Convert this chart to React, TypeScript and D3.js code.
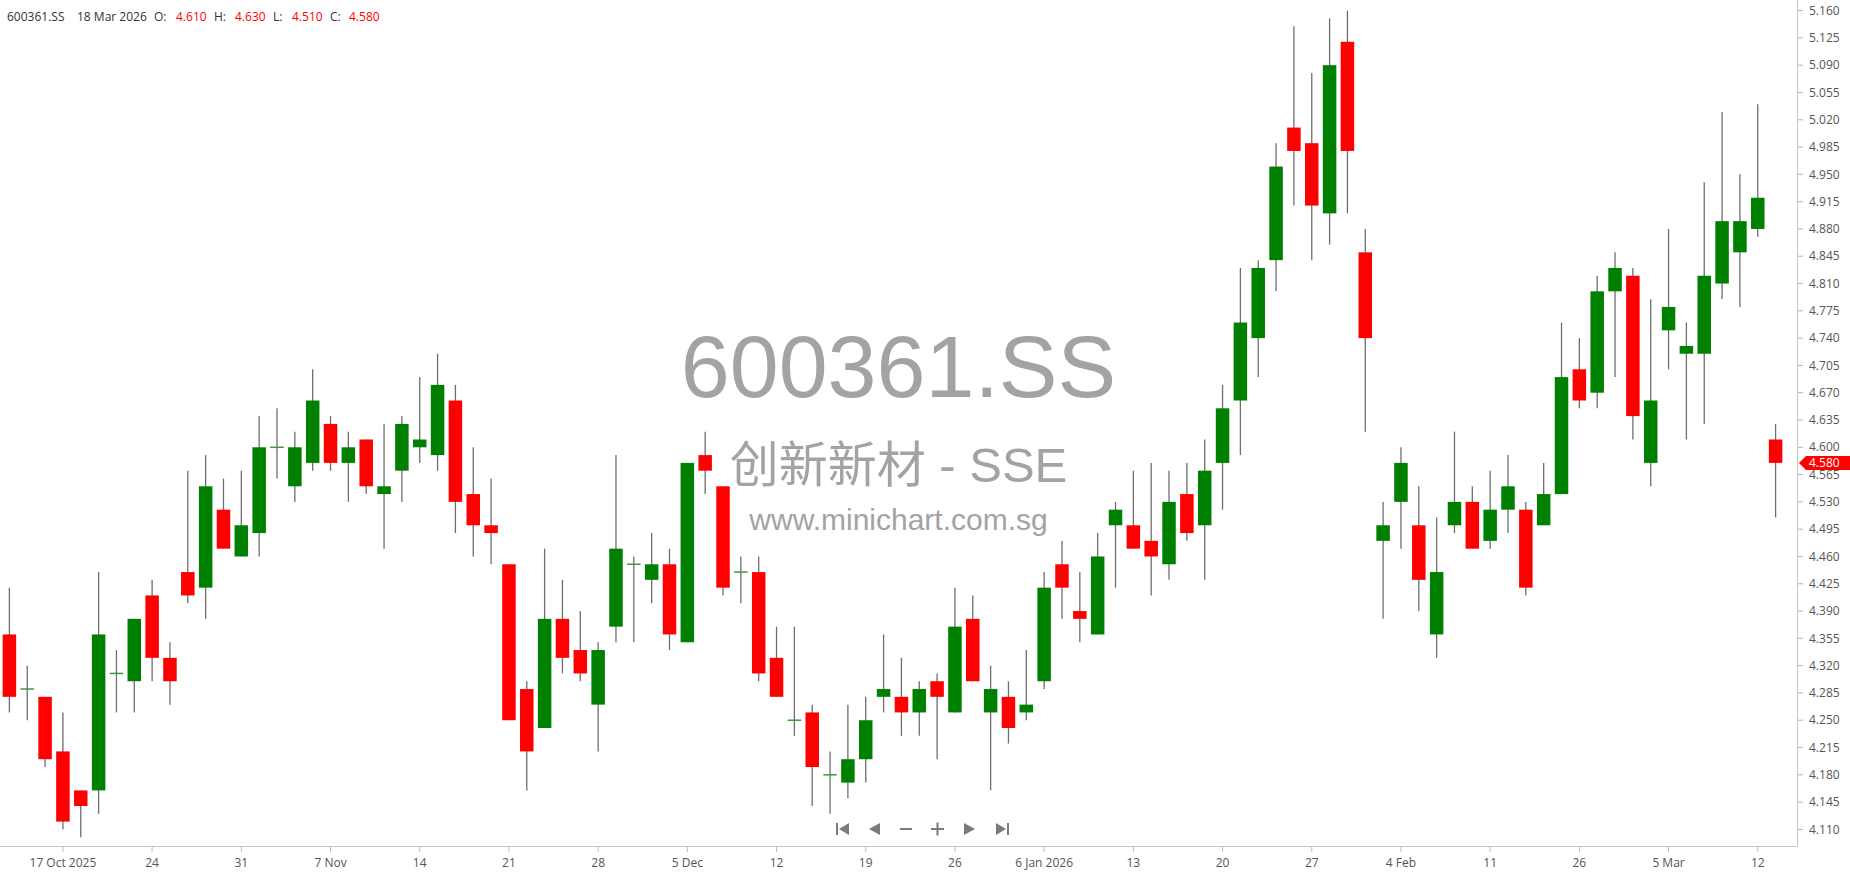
import React from "react";
import * as d3 from "d3";

// trading days shown on the chart
const dates = [
  "2025-10-14", "2025-10-15", "2025-10-16", "2025-10-17", "2025-10-20", "2025-10-21", "2025-10-22", "2025-10-23", "2025-10-24",
  "2025-10-27", "2025-10-28", "2025-10-29", "2025-10-30", "2025-10-31", "2025-11-03", "2025-11-04", "2025-11-05", "2025-11-06",
  "2025-11-07", "2025-11-10", "2025-11-11", "2025-11-12", "2025-11-13", "2025-11-14", "2025-11-17", "2025-11-18", "2025-11-19",
  "2025-11-20", "2025-11-21", "2025-11-24", "2025-11-25", "2025-11-26", "2025-11-27", "2025-11-28", "2025-12-01", "2025-12-02",
  "2025-12-03", "2025-12-04", "2025-12-05", "2025-12-08", "2025-12-09", "2025-12-10", "2025-12-11", "2025-12-12", "2025-12-15",
  "2025-12-16", "2025-12-17", "2025-12-18", "2025-12-19", "2025-12-22", "2025-12-23", "2025-12-24", "2025-12-25", "2025-12-26",
  "2025-12-29", "2025-12-30", "2025-12-31", "2026-01-05", "2026-01-06", "2026-01-07", "2026-01-08", "2026-01-09", "2026-01-12",
  "2026-01-13", "2026-01-14", "2026-01-15", "2026-01-16", "2026-01-19", "2026-01-20", "2026-01-21", "2026-01-22", "2026-01-23",
  "2026-01-26", "2026-01-27", "2026-01-28", "2026-01-29", "2026-01-30", "2026-02-03", "2026-02-04", "2026-02-05", "2026-02-06",
  "2026-02-09", "2026-02-10", "2026-02-11", "2026-02-12", "2026-02-13", "2026-02-24", "2026-02-25", "2026-02-26", "2026-02-27",
  "2026-03-02", "2026-03-03", "2026-03-04", "2026-03-05", "2026-03-06", "2026-03-09", "2026-03-10", "2026-03-11", "2026-03-12",
  "2026-03-18",
];

const open = [
  4.36, 4.29, 4.28, 4.21, 4.16, 4.16, 4.31, 4.30, 4.41, 4.33,
  4.44, 4.42, 4.52, 4.46, 4.49, 4.60, 4.55, 4.58, 4.63, 4.58,
  4.61, 4.54, 4.57, 4.60, 4.59, 4.66, 4.54, 4.50, 4.45, 4.29,
  4.24, 4.38, 4.34, 4.27, 4.37, 4.45, 4.43, 4.45, 4.35, 4.59,
  4.55, 4.44, 4.44, 4.33, 4.25, 4.26, 4.18, 4.17, 4.20, 4.28,
  4.28, 4.26, 4.30, 4.26, 4.38, 4.26, 4.28, 4.26, 4.30, 4.45,
  4.39, 4.36, 4.50, 4.50, 4.48, 4.45, 4.54, 4.50, 4.58, 4.66,
  4.74, 4.84, 5.01, 4.99, 4.90, 5.12, 4.85, 4.48, 4.53, 4.50,
  4.36, 4.50, 4.53, 4.48, 4.52, 4.52, 4.50, 4.54, 4.70, 4.67,
  4.80, 4.82, 4.58, 4.75, 4.72, 4.72, 4.81, 4.85, 4.88, 4.61,
];
const high = [
  4.42, 4.32, 4.28, 4.26, 4.16, 4.44, 4.34, 4.38, 4.43, 4.35,
  4.57, 4.59, 4.56, 4.57, 4.64, 4.65, 4.62, 4.70, 4.64, 4.62,
  4.61, 4.63, 4.64, 4.69, 4.72, 4.68, 4.60, 4.56, 4.45, 4.30,
  4.47, 4.43, 4.39, 4.35, 4.59, 4.46, 4.49, 4.47, 4.58, 4.62,
  4.55, 4.46, 4.46, 4.37, 4.37, 4.27, 4.21, 4.27, 4.28, 4.36,
  4.33, 4.30, 4.31, 4.42, 4.41, 4.32, 4.30, 4.34, 4.44, 4.48,
  4.44, 4.49, 4.53, 4.57, 4.58, 4.57, 4.58, 4.61, 4.68, 4.83,
  4.84, 4.99, 5.14, 5.08, 5.15, 5.16, 4.88, 4.53, 4.60, 4.55,
  4.51, 4.62, 4.55, 4.57, 4.59, 4.53, 4.58, 4.76, 4.74, 4.82,
  4.85, 4.83, 4.79, 4.88, 4.76, 4.94, 5.03, 4.95, 5.04, 4.63,
];
const low = [
  4.26, 4.25, 4.19, 4.11, 4.10, 4.13, 4.26, 4.26, 4.30, 4.27,
  4.40, 4.38, 4.47, 4.46, 4.46, 4.56, 4.53, 4.57, 4.57, 4.53,
  4.54, 4.47, 4.53, 4.58, 4.57, 4.49, 4.46, 4.45, 4.25, 4.16,
  4.24, 4.31, 4.30, 4.21, 4.35, 4.35, 4.40, 4.34, 4.35, 4.54,
  4.41, 4.40, 4.30, 4.28, 4.23, 4.14, 4.13, 4.15, 4.17, 4.26,
  4.23, 4.23, 4.20, 4.26, 4.30, 4.16, 4.22, 4.25, 4.29, 4.38,
  4.35, 4.36, 4.42, 4.47, 4.41, 4.43, 4.48, 4.43, 4.52, 4.59,
  4.69, 4.80, 4.91, 4.84, 4.86, 4.90, 4.62, 4.38, 4.47, 4.39,
  4.33, 4.49, 4.47, 4.47, 4.49, 4.41, 4.50, 4.54, 4.65, 4.65,
  4.69, 4.61, 4.55, 4.70, 4.61, 4.63, 4.79, 4.78, 4.87, 4.51,
];
const close = [
  4.28, 4.29, 4.20, 4.12, 4.14, 4.36, 4.31, 4.38, 4.33, 4.30,
  4.41, 4.55, 4.47, 4.50, 4.60, 4.60, 4.60, 4.66, 4.58, 4.60,
  4.55, 4.55, 4.63, 4.61, 4.68, 4.53, 4.50, 4.49, 4.25, 4.21,
  4.38, 4.33, 4.31, 4.34, 4.47, 4.45, 4.45, 4.36, 4.58, 4.57,
  4.42, 4.44, 4.31, 4.28, 4.25, 4.19, 4.18, 4.20, 4.25, 4.29,
  4.26, 4.29, 4.28, 4.37, 4.30, 4.29, 4.24, 4.27, 4.42, 4.42,
  4.38, 4.46, 4.52, 4.47, 4.46, 4.53, 4.49, 4.57, 4.65, 4.76,
  4.83, 4.96, 4.98, 4.91, 5.09, 4.98, 4.74, 4.50, 4.58, 4.43,
  4.44, 4.53, 4.47, 4.52, 4.55, 4.42, 4.54, 4.69, 4.66, 4.80,
  4.83, 4.64, 4.66, 4.78, 4.73, 4.82, 4.89, 4.89, 4.92, 4.58,
];

const tickDates = [
  "2025-10-17", "2025-10-24", "2025-10-31", "2025-11-07", "2025-11-14", "2025-11-21", "2025-11-28",
  "2025-12-05", "2025-12-12", "2025-12-19", "2025-12-26", "2026-01-06", "2026-01-13", "2026-01-20",
  "2026-01-27", "2026-02-04", "2026-02-11", "2026-02-26", "2026-03-05", "2026-03-12",
];
const tickLabels = [
  "17 Oct 2025", "24", "31", "7 Nov", "14", "21", "28", "5 Dec", "12", "19", "26",
  "6 Jan 2026", "13", "20", "27", "4 Feb", "11", "26", "5 Mar", "12",
];

const yTicks = [
  4.110, 4.145, 4.180, 4.215, 4.250, 4.285, 4.320, 4.355, 4.390, 4.425, 4.460,
  4.495, 4.530, 4.565, 4.600, 4.635, 4.670, 4.705, 4.740, 4.775, 4.810, 4.845,
  4.880, 4.915, 4.950, 4.985, 5.020, 5.055, 5.090, 5.125, 5.160,
];

const symbol = "600361.SS";
const nameLine = "创新新材 - SSE";
const siteLine = "www.minichart.com.sg";

const W = 1850;
const H = 874;
const plotRight = 1797;
const axisY = 846;
const font = "'Open Sans', 'Noto Sans', sans-serif";

export default function App() {
  const x = d3.scalePoint<string>().domain(dates).range([9.4, 1775.6]);
  const y = d3.scaleLinear().domain([4.11, 5.16]).range([829.4, 10.6]);
  const bw = 13.5;
  const f3 = d3.format(".3f");
  const last = dates.length - 1;

  const fmtDate = d3.timeFormat("%-d %b %Y");
  const lastDate = fmtDate(d3.timeParse("%Y-%m-%d")(dates[last]) as Date);

  const header: [string, string, number][] = [
    [symbol, "#333", 7],
    [lastDate, "#333", 77],
    ["O:", "#333", 154],
    [f3(open[last]), "#ff0000", 176],
    ["H:", "#333", 214],
    [f3(high[last]), "#ff0000", 235],
    ["L:", "#333", 273],
    [f3(low[last]), "#ff0000", 292],
    ["C:", "#333", 330],
    [f3(close[last]), "#ff0000", 349],
  ];

  const tagY = y(close[last]);
  const navY = 829;
  const navCol = "#7a7a7a";

  return (
    <svg
      width={W}
      height={H}
      style={{ position: "absolute", left: 0, top: 0, background: "#fff" }}
    >
      <rect x={0} y={0} width={W} height={H} fill="#fff" />

      {/* watermark */}
      <g fill="#a3a3a3" textAnchor="middle" fontFamily="'Liberation Sans', Arial, 'Noto Sans CJK SC', sans-serif">
        <text x={plotRight / 2} y={397} fontSize={88}>{symbol}</text>
        <text x={plotRight / 2} y={482} fontSize={49}>{nameLine}</text>
        <text x={plotRight / 2} y={530} fontSize={30}>{siteLine}</text>
      </g>

      {/* candles */}
      <g>
        {dates.map((d, i) => {
          const cx = x(d) as number;
          const o = open[i];
          const c = close[i];
          const up = c >= o;
          const top = y(Math.max(o, c));
          const h = Math.abs(y(o) - y(c));
          return (
            <g key={d}>
              <line x1={cx} x2={cx} y1={y(high[i])} y2={y(low[i])} stroke="#6e6e6e" strokeWidth={1.3} />
              {h < 1.5 ? (
                <rect x={cx - bw / 2} y={top - 0.75} width={bw} height={1.5} fill={up ? "#3f9a3f" : "#ff4040"} />
              ) : (
                <rect x={cx - bw / 2} y={top} width={bw} height={h} fill={up ? "#008000" : "#ff0000"} />
              )}
            </g>
          );
        })}
      </g>

      {/* axes */}
      <line x1={0} x2={plotRight} y1={axisY + 0.5} y2={axisY + 0.5} stroke="#c6c6c6" />
      <line x1={plotRight + 0.5} x2={plotRight + 0.5} y1={0} y2={axisY + 1} stroke="#c6c6c6" />

      <g fontFamily={font} fontSize={12} fill="#555">
        {yTicks.map((t) => (
          <g key={t}>
            <line x1={plotRight + 1} x2={plotRight + 6} y1={y(t)} y2={y(t)} stroke="#b5b5b5" />
            <text x={1809} y={y(t)} dy="0.35em">{f3(t)}</text>
          </g>
        ))}
        {tickDates.map((d, i) => (
          <g key={d}>
            <line x1={x(d) as number} x2={x(d) as number} y1={axisY + 1} y2={axisY + 6} stroke="#bdbdbd" />
            <text x={x(d) as number} y={867} textAnchor="middle">{tickLabels[i]}</text>
          </g>
        ))}
      </g>

      {/* last price tag */}
      <path
        d={`M${plotRight + 2},${tagY} L${plotRight + 9},${tagY - 7} L${W},${tagY - 7} L${W},${tagY + 7} L${plotRight + 9},${tagY + 7} Z`}
        fill="#ff0000"
      />
      <text x={1809} y={tagY} dy="0.35em" fontFamily={font} fontSize={12} fill="#fff">
        {f3(close[last])}
      </text>

      {/* header */}
      <g fontFamily={font} fontSize={12}>
        {header.map(([t, col, hx]) => (
          <text key={hx} x={hx} y={21} fill={col}>{t}</text>
        ))}
      </g>

      {/* navigation buttons */}
      <g fill={navCol} stroke="none">
        <rect x={836} y={navY - 6} width={2} height={12} />
        <path d={`M839,${navY} L849,${navY - 6} L849,${navY + 6} Z`} />
        <path d={`M869,${navY} L880,${navY - 6} L880,${navY + 6} Z`} />
        <rect x={900} y={navY - 1} width={12} height={2} />
        <rect x={931} y={navY - 1} width={13} height={2} />
        <rect x={936.5} y={navY - 6.5} width={2} height={13} />
        <path d={`M975,${navY} L964,${navY - 6} L964,${navY + 6} Z`} />
        <path d={`M1006,${navY} L996,${navY - 6} L996,${navY + 6} Z`} />
        <rect x={1007} y={navY - 6} width={2} height={12} />
      </g>
    </svg>
  );
}
